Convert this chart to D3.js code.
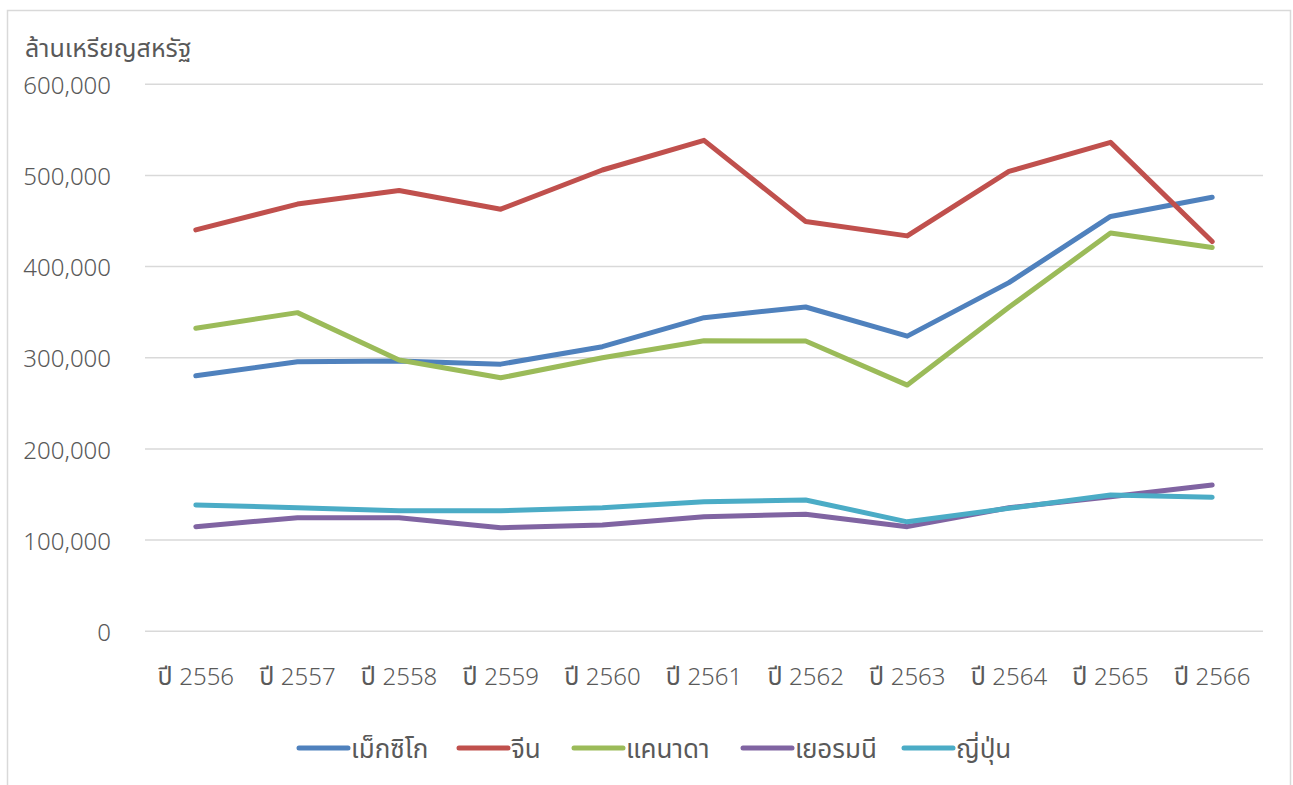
<!DOCTYPE html>
<html><head><meta charset="utf-8">
<script src="https://cdn.jsdelivr.net/npm/d3@7"></script>
<style>
html,body{margin:0;padding:0;background:#fff;}
svg{display:block;}
text{font-family:"Noto Sans","Noto Sans Thai","Leelawadee UI",Tahoma,sans-serif;fill:#595959;}
</style></head>
<body>
<script>
const categories = ["ปี 2556","ปี 2557","ปี 2558","ปี 2559","ปี 2560","ปี 2561","ปี 2562","ปี 2563","ปี 2564","ปี 2565","ปี 2566"];
const seriesNames = ["เม็กซิโก","จีน","แคนาดา","เยอรมนี","ญี่ปุ่น"];
const mexico  = [280200,295600,296400,293000,312100,344000,355700,323700,382400,455000,476000];
const china   = [440300,468600,483500,463000,506000,538500,449500,433700,504400,536300,427500];
const canada  = [332300,349500,297500,278000,300000,318700,318300,270000,355400,436800,420900];
const germany = [114700,124500,124500,113500,116500,125600,128200,114700,135500,147600,160400];
const japan   = [138500,135500,132200,132200,135500,142100,144000,120000,134800,149400,146900];
const yTicks  = [0,100000,200000,300000,400000,500000,600000];
const yTitle  = "ล้านเหรียญสหรัฐ";
const colors  = ["#4f81bd","#c0504d","#9bbb59","#8064a2","#4bacc6"];

const seriesValues = [mexico, china, canada, germany, japan];
const W = 1293, H = 785;
const svg = d3.select("body").append("svg").attr("width", W).attr("height", H);

// chart frame
svg.append("rect").attr("x",7.5).attr("y",10.5).attr("width",1283).attr("height",790)
  .attr("fill","#fff").attr("stroke","#d9d9d9").attr("stroke-width",1.5);

const plot = {left:145, right:1263, top:84.3, bottom:631.2};
const x = d3.scalePoint().domain(categories).range([plot.left, plot.right]).padding(0.5);
const y = d3.scaleLinear().domain([0,600000]).range([plot.bottom, plot.top]);

// gridlines
svg.append("g").selectAll("line").data(yTicks).join("line")
  .attr("x1",plot.left).attr("x2",plot.right)
  .attr("y1",d=>y(d)).attr("y2",d=>y(d))
  .attr("stroke","#d9d9d9").attr("stroke-width",1.5);

// y axis labels
const fmt = d3.format(",");
svg.append("g").selectAll("text").data(yTicks).join("text")
  .attr("x",111).attr("y",d=>y(d)+1).attr("dy","0.36em")
  .attr("text-anchor","end").style("font-size","24px").style("font-weight",300).text(d=>fmt(d));

// y title
svg.append("text").attr("x",25).attr("y",57).style("font-size","25px").text(yTitle);

// x labels: Thai prefix and year number as tspans
const xl = svg.append("g").selectAll("text").data(categories).join("text")
  .attr("x",d=>x(d)).attr("y",679).attr("dy","0.36em")
  .attr("text-anchor","middle");
xl.append("tspan").style("font-size","25px").text(d=>d.split(" ")[0] + " ");
xl.append("tspan").style("font-size","24px").style("font-weight",300).text(d=>d.split(" ")[1]);

// lines
const line = d3.line().x((d,i)=>x(categories[i])).y(d=>y(d));
svg.append("g").selectAll("path").data(seriesValues).join("path")
  .attr("d",d=>line(d)).attr("fill","none")
  .attr("stroke",(d,i)=>colors[i]).attr("stroke-width",5)
  .attr("stroke-linejoin","round").attr("stroke-linecap","round");

// legend
const legendX = [297,457,572,741,902];
const lg = svg.append("g").selectAll("g").data(seriesNames).join("g")
  .attr("transform",(d,i)=>`translate(${legendX[i]},748)`);
lg.append("line").attr("x1",2).attr("x2",51).attr("y1",0).attr("y2",0)
  .attr("stroke",(d,i)=>colors[i]).attr("stroke-width",5).attr("stroke-linecap","round");
lg.append("text").attr("x",54).attr("y",1).attr("dy","0.36em").style("font-size","26px").text(d=>d);
</script>
</body></html>
